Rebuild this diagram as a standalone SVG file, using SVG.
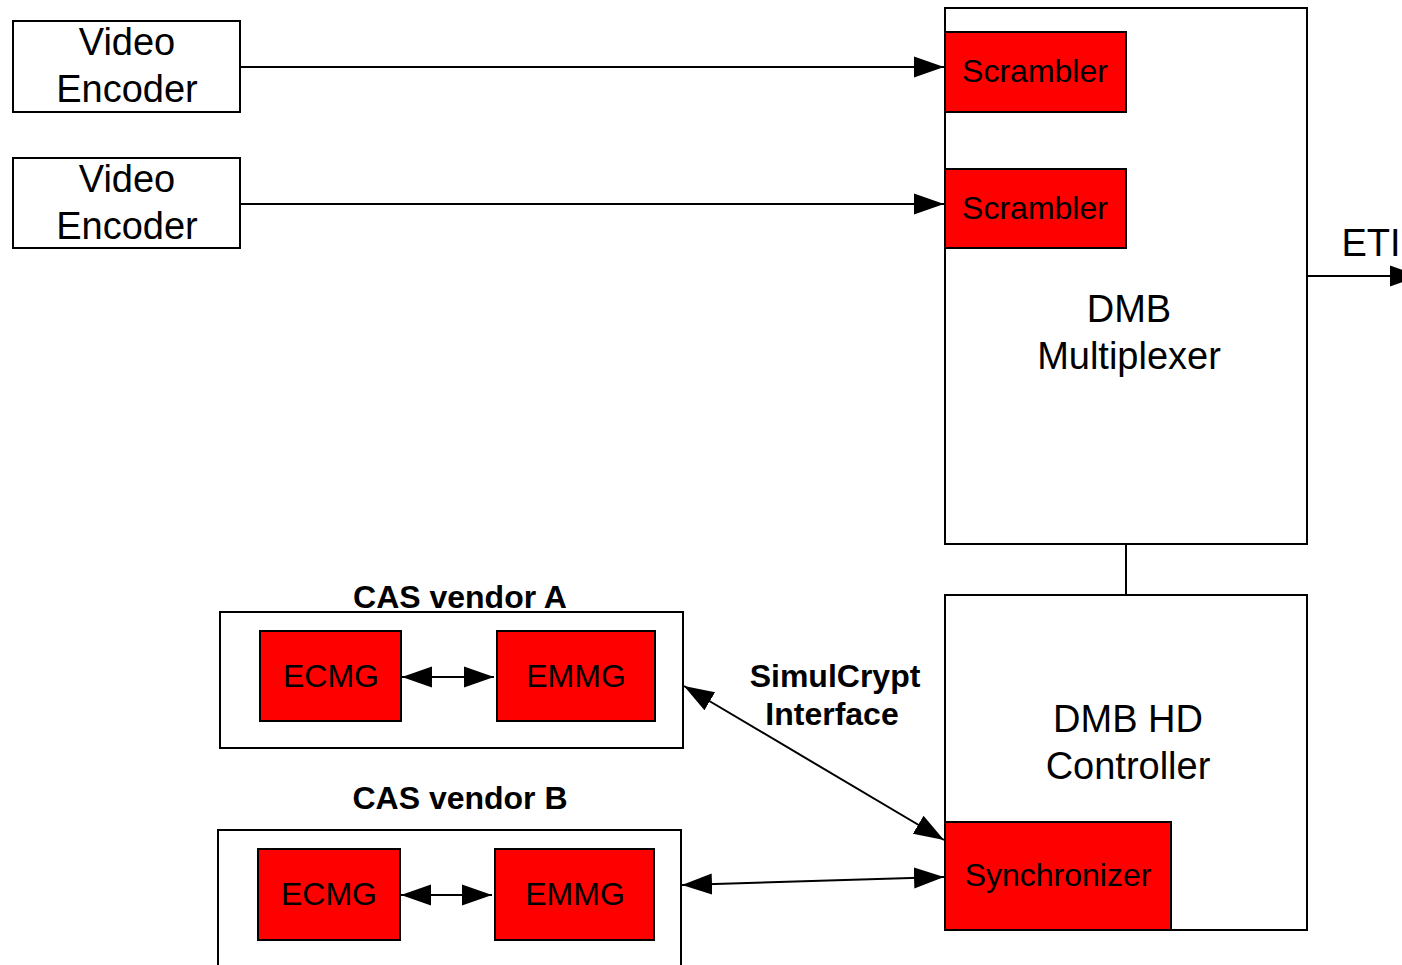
<svg xmlns="http://www.w3.org/2000/svg" width="1402" height="965" viewBox="0 0 1402 965">
<defs>
<marker id="ah" viewBox="0 0 10 10" refX="10" refY="5" markerWidth="30" markerHeight="30" markerUnits="userSpaceOnUse" orient="auto-start-reverse"><path d="M0,1.5 L10,5 L0,8.5 z" fill="#000"/></marker>
</defs>
<style>
.box{fill:#fff;stroke:#000;stroke-width:2}
.red{fill:#ff0000;stroke:#000;stroke-width:2}
.t{font-family:"Liberation Sans",Arial,sans-serif;fill:#000;text-anchor:middle}
.b{font-weight:bold}
.ln{stroke:#000;stroke-width:2;fill:none}
</style>
<rect width="1402" height="965" fill="#fff"/>
<g id="enc1"><rect class="box" x="13" y="21" width="227" height="91"/><text class="t" x="127" y="55" font-size="38">Video</text><text class="t" x="127" y="102" font-size="38">Encoder</text></g>
<g id="enc2"><rect class="box" x="13" y="158" width="227" height="90"/><text class="t" x="127" y="192" font-size="38">Video</text><text class="t" x="127" y="239" font-size="38">Encoder</text></g>
<g id="mux"><rect class="box" x="945" y="8" width="362" height="536"/><text class="t" x="1129" y="322" font-size="38">DMB</text><text class="t" x="1129" y="369" font-size="38">Multiplexer</text></g>
<g id="scr1"><rect class="red" x="945" y="32" width="181" height="80"/><text class="t" x="1035" y="82" font-size="32">Scrambler</text></g>
<g id="scr2"><rect class="red" x="945" y="169" width="181" height="79"/><text class="t" x="1035" y="219" font-size="32">Scrambler</text></g>
<g id="ctrl"><rect class="box" x="945" y="595" width="362" height="335"/><text class="t" x="1128" y="732" font-size="38">DMB HD</text><text class="t" x="1128" y="779" font-size="38">Controller</text></g>
<g id="sync"><rect class="red" x="945" y="822" width="226" height="108"/><text class="t" x="1058" y="886" font-size="32">Synchronizer</text></g>
<g id="casA"><rect class="box" x="220" y="612" width="463" height="136"/><text class="t b" x="460" y="608" font-size="32">CAS vendor A</text>
<rect class="red" x="260" y="631" width="141" height="90"/><text class="t" x="331" y="687" font-size="32">ECMG</text>
<rect class="red" x="497" y="631" width="158" height="90"/><text class="t" x="576" y="687" font-size="32">EMMG</text></g>
<g id="casB"><rect class="box" x="218" y="830" width="463" height="150"/><text class="t b" x="460" y="809" font-size="32">CAS vendor B</text>
<rect class="red" x="258" y="849" width="142" height="91"/><text class="t" x="329" y="905" font-size="32">ECMG</text>
<rect class="red" x="495" y="849" width="159" height="91"/><text class="t" x="575" y="905" font-size="32">EMMG</text></g>
<g id="labels"><text class="t b" x="835" y="687" font-size="32">SimulCrypt</text><text class="t b" x="832" y="725" font-size="32">Interface</text><text class="t" x="1371" y="256" font-size="38">ETI</text></g>
<g id="connectors">
<line class="ln" x1="240" y1="67" x2="944" y2="67" marker-end="url(#ah)"/>
<line class="ln" x1="240" y1="204" x2="944" y2="204" marker-end="url(#ah)"/>
<line class="ln" x1="1307" y1="276" x2="1420" y2="276" marker-end="url(#ah)"/>
<line class="ln" x1="1126" y1="544" x2="1126" y2="595"/>
<line class="ln" x1="402" y1="677" x2="494" y2="677" marker-start="url(#ah)" marker-end="url(#ah)"/>
<line class="ln" x1="401" y1="895" x2="492" y2="895" marker-start="url(#ah)" marker-end="url(#ah)"/>
<line class="ln" x1="684" y1="686" x2="944" y2="840" marker-start="url(#ah)" marker-end="url(#ah)"/>
<line class="ln" x1="682" y1="885" x2="944" y2="877" marker-start="url(#ah)" marker-end="url(#ah)"/>
</g>
</svg>
